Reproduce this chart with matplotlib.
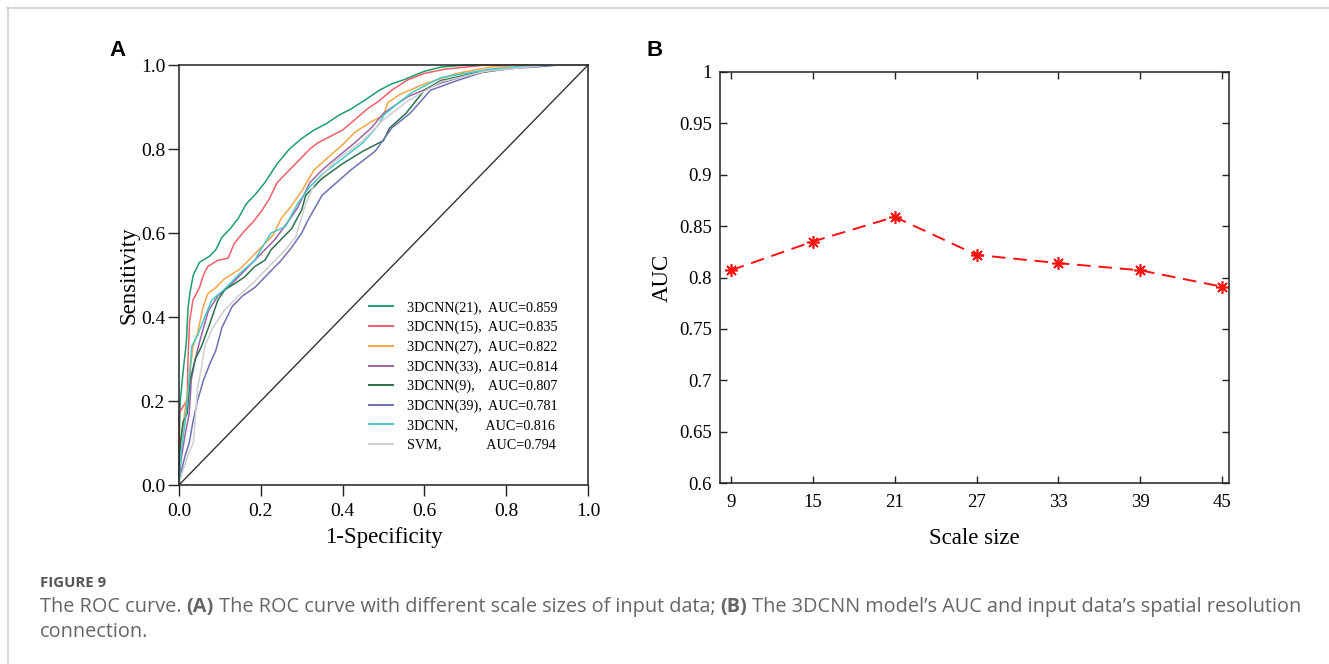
import matplotlib
matplotlib.use("Agg")
import matplotlib.pyplot as plt
from matplotlib.lines import Line2D

# ---------------- data: panel A (ROC curves) ----------------
roc_labels = [
    "3DCNN(21),  AUC=0.859",
    "3DCNN(15),  AUC=0.835",
    "3DCNN(27),  AUC=0.822",
    "3DCNN(33),  AUC=0.814",
    "3DCNN(9),    AUC=0.807",
    "3DCNN(39),  AUC=0.781",
    "3DCNN,        AUC=0.816",
    "SVM,             AUC=0.794",
]
roc_colors = ["#1f9e6c", "#f25f6b", "#f6a645", "#9c62a6",
              "#2c7149", "#6c71b3", "#46c8cb", "#cfcfcf"]

fpr_21 = [0, 0, 0.003, 0.01, 0.018, 0.022, 0.027, 0.035, 0.05, 0.075, 0.09, 0.105, 0.125, 0.145,
          0.165, 0.185, 0.21, 0.24, 0.27, 0.30, 0.33, 0.36, 0.39, 0.42, 0.46, 0.49, 0.52, 0.55,
          0.60, 0.64, 0.70, 1.0]
tpr_21 = [0, 0.08, 0.20, 0.27, 0.34, 0.42, 0.46, 0.50, 0.53, 0.545, 0.56, 0.59, 0.61, 0.635,
          0.67, 0.69, 0.72, 0.765, 0.80, 0.825, 0.845, 0.86, 0.88, 0.895, 0.92, 0.94, 0.955, 0.965,
          0.985, 0.995, 1.0, 1.0]

fpr_15 = [0, 0, 0.012, 0.02, 0.022, 0.026, 0.034, 0.05, 0.06, 0.07, 0.095, 0.12, 0.135, 0.16,
          0.18, 0.20, 0.22, 0.24, 0.27, 0.29, 0.32, 0.34, 0.37, 0.40, 0.43, 0.46, 0.49, 0.52,
          0.56, 0.60, 0.65, 0.75, 1.0]
tpr_15 = [0, 0.17, 0.19, 0.20, 0.30, 0.39, 0.44, 0.47, 0.50, 0.52, 0.535, 0.54, 0.575, 0.605,
          0.625, 0.65, 0.68, 0.72, 0.75, 0.77, 0.80, 0.815, 0.83, 0.845, 0.87, 0.895, 0.915, 0.94,
          0.965, 0.98, 0.99, 1.0, 1.0]

fpr_27 = [0, 0.005, 0.015, 0.025, 0.034, 0.045, 0.058, 0.07, 0.09, 0.11, 0.15, 0.185, 0.205,
          0.23, 0.25, 0.275, 0.30, 0.33, 0.37, 0.40, 0.43, 0.47, 0.50, 0.51, 0.54, 0.60, 0.68,
          0.76, 0.85, 1.0]
tpr_27 = [0, 0.10, 0.18, 0.25, 0.33, 0.36, 0.42, 0.455, 0.47, 0.49, 0.515, 0.55, 0.57,
          0.595, 0.635, 0.665, 0.70, 0.75, 0.785, 0.81, 0.84, 0.865, 0.88, 0.91, 0.93, 0.955, 0.98,
          0.995, 1.0, 1.0]

fpr_33 = [0, 0.005, 0.015, 0.025, 0.03, 0.04, 0.05, 0.063, 0.072, 0.095, 0.13, 0.17, 0.20,
          0.235, 0.265, 0.29, 0.32, 0.35, 0.38, 0.43, 0.47, 0.50, 0.56, 0.64, 0.72, 0.84, 0.92, 1.0]
tpr_33 = [0, 0.06, 0.12, 0.17, 0.25, 0.30, 0.34, 0.385, 0.415, 0.45, 0.48, 0.52, 0.55,
          0.585, 0.625, 0.66, 0.72, 0.75, 0.775, 0.815, 0.85, 0.885, 0.925, 0.957, 0.98, 0.996, 1.0, 1.0]

fpr_9 = [0, 0.003, 0.01, 0.02, 0.027, 0.04, 0.055, 0.072, 0.095, 0.112, 0.137, 0.16, 0.185,
         0.21, 0.225, 0.25, 0.275, 0.30, 0.31, 0.35, 0.40, 0.45, 0.50, 0.515, 0.555, 0.60, 0.64,
         0.72, 0.84, 0.92, 1.0]
tpr_9 = [0, 0.10, 0.15, 0.17, 0.25, 0.30, 0.33, 0.375, 0.44, 0.465, 0.48, 0.495, 0.52,
         0.535, 0.56, 0.585, 0.61, 0.655, 0.69, 0.73, 0.765, 0.795, 0.82, 0.85, 0.885, 0.94, 0.963,
         0.98, 0.995, 1.0, 1.0]

fpr_39 = [0, 0.005, 0.015, 0.025, 0.034, 0.045, 0.06, 0.076, 0.09, 0.105, 0.13, 0.155, 0.185,
          0.22, 0.25, 0.275, 0.30, 0.315, 0.35, 0.42, 0.48, 0.52, 0.565, 0.615, 0.68, 0.76, 0.88,
          0.93, 1.0]
tpr_39 = [0, 0.03, 0.07, 0.10, 0.15, 0.20, 0.25, 0.29, 0.32, 0.375, 0.425, 0.45, 0.47,
          0.505, 0.535, 0.565, 0.60, 0.63, 0.69, 0.75, 0.795, 0.85, 0.885, 0.94, 0.963, 0.988, 0.996,
          1.0, 1.0]

fpr_cnn = [0, 0.005, 0.015, 0.025, 0.031, 0.047, 0.063, 0.08, 0.11, 0.15, 0.185, 0.20, 0.225,
           0.26, 0.29, 0.32, 0.35, 0.39, 0.45, 0.49, 0.50, 0.53, 0.57, 0.64, 0.76, 0.88, 1.0]
tpr_cnn = [0, 0.08, 0.15, 0.25, 0.33, 0.36, 0.40, 0.44, 0.465, 0.505, 0.535, 0.56, 0.60,
           0.615, 0.67, 0.71, 0.74, 0.77, 0.815, 0.86, 0.88, 0.905, 0.935, 0.97, 0.99, 1.0, 1.0]

fpr_svm = [0, 0.008, 0.015, 0.025, 0.035, 0.04, 0.045, 0.055, 0.063, 0.08, 0.11, 0.145, 0.18,
           0.21, 0.235, 0.26, 0.285, 0.31, 0.33, 0.38, 0.45, 0.50, 0.56, 0.64, 0.75, 0.90, 1.0]
tpr_svm = [0, 0.03, 0.05, 0.08, 0.10, 0.16, 0.23, 0.28, 0.33, 0.37, 0.415, 0.45, 0.48,
           0.51, 0.535, 0.56, 0.59, 0.67, 0.715, 0.77, 0.82, 0.87, 0.915, 0.96, 0.985, 1.0, 1.0]

roc_fpr = [fpr_21, fpr_15, fpr_27, fpr_33, fpr_9, fpr_39, fpr_cnn, fpr_svm]
roc_tpr = [tpr_21, tpr_15, tpr_27, tpr_33, tpr_9, tpr_39, tpr_cnn, tpr_svm]
roc_ticks = [0.0, 0.2, 0.4, 0.6, 0.8, 1.0]
roc_ticklabels = ["0.0", "0.2", "0.4", "0.6", "0.8", "1.0"]

# ---------------- data: panel B (AUC vs scale) ----------------
scale_sizes = [9, 15, 21, 27, 33, 39, 45]
auc_values = [0.807, 0.835, 0.859, 0.822, 0.814, 0.807, 0.791]
auc_ticks = [0.6, 0.65, 0.7, 0.75, 0.8, 0.85, 0.9, 0.95, 1.0]
auc_ticklabels = ["0.6", "0.65", "0.7", "0.75", "0.8", "0.85", "0.9", "0.95", "1"]

SERIF = "Liberation Serif"
W, H = 1329, 664
fig = plt.figure(figsize=(W / 100, H / 100), dpi=100)
fig.patch.set_facecolor("white")

def fx(px):
    return px / W

def fy(py):
    return 1 - py / H

# light frame of the figure box
fig.add_artist(Line2D([fx(7), 1.0], [fy(7.5), fy(7.5)], color="#d2d2d2", lw=1.2))
fig.add_artist(Line2D([fx(7.5), fx(7.5)], [fy(7), 0.0], color="#d2d2d2", lw=1.2))

# ---------------- panel A ----------------
axA = fig.add_axes([fx(179), fy(485), (588 - 179) / W, (485 - 65) / H])
for x, y, c in zip(roc_fpr, roc_tpr, roc_colors):
    axA.plot(x, y, color=c, lw=1.1, clip_on=False)
axA.plot([0, 1], [0, 1], color="#333333", lw=1.0)
axA.set_xlim(0, 1)
axA.set_ylim(0, 1)
axA.set_xticks(roc_ticks)
axA.set_xticklabels(roc_ticklabels)
axA.set_yticks(roc_ticks)
axA.set_yticklabels(roc_ticklabels)
axA.tick_params(direction="out", length=8, width=1.0, labelsize=14, color="#222222",
                pad=2, top=False, right=False)
axA.tick_params(axis="x", pad=5)
for lab in axA.get_xticklabels() + axA.get_yticklabels():
    lab.set_fontfamily(SERIF)
for sp in axA.spines.values():
    sp.set_linewidth(1.1)
    sp.set_color("#222222")
axA.set_xlabel("1-Specificity", fontfamily=SERIF, fontsize=16.5, labelpad=5)
axA.set_ylabel("Sensitivity", fontfamily=SERIF, fontsize=16.5, labelpad=1)

handles = [Line2D([], [], color=c, lw=1.4) for c in roc_colors]
leg = axA.legend(handles, roc_labels, loc="upper left", bbox_to_anchor=(0.465, 0.438),
                 frameon=False, prop={"family": SERIF, "size": 10.2}, handlelength=1.7,
                 handletextpad=0.95, labelspacing=0.44, borderpad=0, borderaxespad=0)

fig.text(fx(117), fy(50), "A", fontfamily="Liberation Sans", fontweight="bold",
         fontsize=16, ha="center", va="center")

# ---------------- panel B ----------------
axB = fig.add_axes([fx(720), fy(483), (1229 - 720) / W, (483 - 72) / H])
axB.plot(scale_sizes, auc_values, color="#ff1010", lw=1.4, ls=(0, (7, 4)),
         marker=(8, 2, 0), markersize=9, markeredgewidth=1.2, markeredgecolor="#ff1010")
axB.set_xlim(8.2, 45.5)
axB.set_ylim(0.6, 1.0)
axB.set_xticks(scale_sizes)
axB.set_xticklabels([str(s) for s in scale_sizes])
axB.set_yticks(auc_ticks)
axB.set_yticklabels(auc_ticklabels)
axB.tick_params(direction="in", length=5, width=1.0, labelsize=13.5, color="#222222",
                top=True, right=True, pad=6)
axB.tick_params(axis="x", pad=8)
for lab in axB.get_xticklabels() + axB.get_yticklabels():
    lab.set_fontfamily(SERIF)
for sp in axB.spines.values():
    sp.set_linewidth(1.1)
    sp.set_color("#222222")
axB.set_xlabel("Scale size", fontfamily=SERIF, fontsize=16.5, labelpad=12)
axB.set_ylabel("AUC", fontfamily=SERIF, fontsize=16.5, labelpad=4)

fig.text(fx(655), fy(50), "B", fontfamily="Liberation Sans", fontweight="bold",
         fontsize=16, ha="center", va="center")

# ---------------- caption ----------------
CAP = "Open Sans"
fig.text(fx(40), fy(583), "FIGURE 9", fontfamily=CAP, fontweight="bold", fontsize=10.8,
         color="#555555", ha="left", va="center")

renderer = fig.canvas.get_renderer()
pieces = [
    ("The ROC curve. ", "normal"),
    ("(A)", "bold"),
    (" The ROC curve with different scale sizes of input data; ", "normal"),
    ("(B)", "bold"),
    (" The 3DCNN model\u2019s AUC and input data\u2019s spatial resolution", "normal"),
]
x = 40.0
for txt, wgt in pieces:
    t = fig.text(fx(x), fy(607), txt, fontfamily=CAP, fontweight=wgt, fontsize=14.3,
                 color="#666666", ha="left", va="center")
    bb = t.get_window_extent(renderer=renderer)
    x = bb.x1
fig.text(fx(40), fy(632), "connection.", fontfamily=CAP, fontsize=14.3, color="#666666",
         ha="left", va="center")

fig.savefig("out.png", dpi=100, facecolor="white")
